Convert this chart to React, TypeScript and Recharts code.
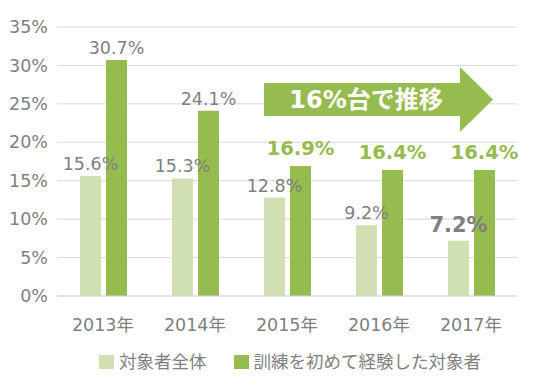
import { BarChart, Bar, XAxis, YAxis, CartesianGrid, LabelList } from 'recharts'

const years = ['2013年', '2014年', '2015年', '2016年', '2017年']
const allTargets = [15.6, 15.3, 12.8, 9.2, 7.2]
const firstTraining = [30.7, 24.1, 16.9, 16.4, 16.4]
const yTicks = [0, 5, 10, 15, 20, 25, 30, 35]
const seriesNames = ['対象者全体', '訓練を初めて経験した対象者']
const arrowText = '16%台で推移'

const data = years.map((year, i) => ({ year, all: allTargets[i], first: firstTraining[i] }))

const FONT = '"DejaVu Sans", "Noto Sans CJK JP", sans-serif'
const GRAY = '#808080'
const LIGHT = '#d1dfb4'
const DARK = '#96bb4e'

// light series: last one is emphasised
const AllLabel = (props: any) => {
  const { x, y, width, value, index } = props
  const bold = index === allTargets.length - 1
  return (
    <text x={x + width / 2} y={y - (bold ? 9 : 6)} textAnchor="middle"
      fontFamily={FONT} fontSize={bold ? 21 : 17.5} fontWeight={bold ? 'bold' : 'normal'} fill={GRAY}>
      {value.toFixed(1)}%
    </text>
  )
}

// dark series: 2015 onward in bold green
const FirstLabel = (props: any) => {
  const { x, y, width, value, index } = props
  const bold = index >= 2
  return (
    <text x={x + width / 2} y={y - (bold ? 11 : 6)} textAnchor="middle"
      fontFamily={FONT} fontSize={bold ? 19.5 : 17.5} fontWeight={bold ? 'bold' : 'normal'} fill={bold ? DARK : GRAY}>
      {value.toFixed(1)}%
    </text>
  )
}

const YearTick = (props: any) => {
  const { x, y, payload } = props
  return (
    <text x={x} y={y + 27} textAnchor="middle" fontFamily={FONT} fontSize={17.5} fill={GRAY}>
      {payload.value}
    </text>
  )
}

export default function App() {
  return (
    <div style={{ position: 'absolute', left: 0, top: 0, width: 542, height: 386, background: '#fff' }}>
      <BarChart width={542} height={386} data={data} barSize={21} barGap={5}
        margin={{ top: 27, right: 25, left: 0, bottom: 60 }}>
        <CartesianGrid vertical={false} stroke="#d9d9d9" />
        <XAxis dataKey="year" axisLine={{ stroke: '#d9d9d9' }} tickLine={false} height={30} tick={<YearTick />} />
        <YAxis domain={[0, 35]} ticks={yTicks} width={57} axisLine={false} tickLine={false} tickSize={0} tickMargin={9}
          tickFormatter={(v: number) => `${v}%`} tick={{ fontFamily: FONT, fontSize: 17.5, fill: GRAY }} />
        <Bar dataKey="all" name={seriesNames[0]} fill={LIGHT} isAnimationActive={false}>
          <LabelList dataKey="all" content={<AllLabel />} />
        </Bar>
        <Bar dataKey="first" name={seriesNames[1]} fill={DARK} isAnimationActive={false}>
          <LabelList dataKey="first" content={<FirstLabel />} />
        </Bar>
      </BarChart>

      <svg width={542} height={386} style={{ position: 'absolute', left: 0, top: 0, pointerEvents: 'none' }}>
        <path d="M265,83 H460 V67 L493,99.5 L460,132 V116 H265 Q264,116 264,115 V84 Q264,83 265,83 Z" fill={DARK} />
        <text x={366} y={108} textAnchor="middle" fontFamily={FONT} fontSize={24} fontWeight="bold" fill="#fff">
          {arrowText}
        </text>
      </svg>

      <div style={{ position: 'absolute', left: 0, top: 352, width: 580, display: 'flex', justifyContent: 'center',
        fontFamily: FONT, fontSize: 17.5, color: GRAY, lineHeight: '20px' }}>
        {seriesNames.map((name, i) => (
          <div key={name} style={{ display: 'flex', alignItems: 'center', marginRight: i === 0 ? 27 : 0 }}>
            <span style={{ width: 15, height: 14, background: i === 0 ? LIGHT : DARK, marginRight: 5, display: 'inline-block' }} />
            <span>{name}</span>
          </div>
        ))}
      </div>
    </div>
  )
}
